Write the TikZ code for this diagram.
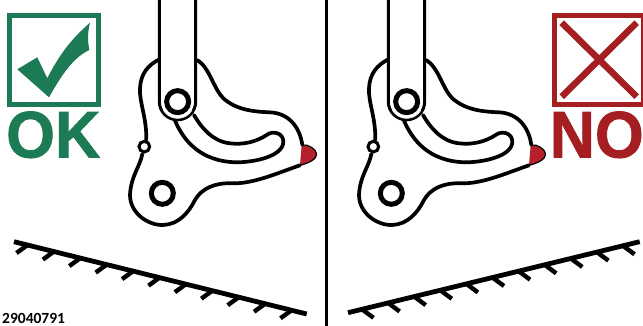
\documentclass[tikz,border=0pt]{standalone}
\usepackage{fontspec}
\setmainfont[BoldFeatures={FakeBold=1.2}]{Liberation Sans}
\newfontfamily\codefont{Carlito}
\definecolor{okgreen}{HTML}{1C7A54}
\definecolor{nored}{HTML}{A51E22}
\definecolor{tipred}{HTML}{B5202A}
\tikzset{
  hookline/.style={draw=black,line width=3.7pt,line join=round,line cap=round},
  rodline/.style={draw=black,line width=3pt,fill=white},
  groundline/.style={draw=black,line width=4.8pt},
  tickline/.style={draw=black,line width=4.4pt},
  bigword/.style={font=\fontsize{66}{66}\selectfont\bfseries,inner sep=0pt,anchor=base west,xscale=.95,transform shape},
  codetext/.style={font=\codefont\fontsize{15.5}{15.5}\selectfont\bfseries,inner sep=0pt,anchor=base west},
  zoomed/.style={x=0.3333pt,y=-0.3333pt}
}
\newcommand{\hookshape}{%
  \fill[tipred] (545,437) .. controls (565,432) and (590,448) .. (590,463) .. controls (590,478) and (565,490) .. (540,496) -- cycle;
  \draw[black,line width=1.2pt,line join=round] (547,435) .. controls (565,432) and (590,448) .. (590,463) .. controls (590,478) and (565,490) .. (540,496);
  \draw[hookline] (118,178) .. controls (85,195) and (62,220) .. (60,265)
    .. controls (58,310) and (80,350) .. (79,420)
    (67,462) .. controls (60,500) and (32,530) .. (30,585)
    .. controls (30,640) and (85,677) .. (130,675)
    .. controls (175,673) and (205,640) .. (225,600)
    .. controls (245,565) and (285,548) .. (335,550)
    .. controls (400,552) and (470,520) .. (540,496)
    (547,435) .. controls (540,385) and (510,340) .. (450,337)
    .. controls (400,335) and (350,330) .. (310,295)
    .. controls (280,265) and (270,205) .. (232,180);
  \draw[hookline] (165,362) .. controls (190,420) and (240,485) .. (350,487)
    .. controls (400,487) and (490,470) .. (490,425)
    .. controls (490,400) and (460,390) .. (440,405)
    .. controls (410,425) and (370,435) .. (330,430)
    .. controls (280,425) and (245,385) .. (222,345);
  \draw[black,line width=3pt] (73,440) circle[radius=16];
  \draw[black,line width=5pt] (127,580) circle[radius=33];
  \draw[rodline] (118,-5) -- (118,305) arc[start angle=180,end angle=0,radius=54.5] -- (227,-5);
  \draw[white,line width=.7pt] (129.7,330) arc[start angle=150,end angle=30,radius=50];
  \draw[black,line width=5pt] (173,305) circle[radius=33];
}
\begin{document}
\begin{tikzpicture}[x=1pt,y=-1pt]
\useasboundingbox (0,0) rectangle (643,326);
\clip (0,0) rectangle (643,326);
\fill[white] (0,0) rectangle (643,326);
% OK badge
\draw[okgreen,line width=5pt] (9.8,15.2) rectangle (98.6,104.3);
\fill[okgreen] (17.3,69.3) -- (37.3,57.3) -- (47.3,78.3) .. controls (58,57) and (70,40) .. (90,22.7)
  .. controls (87,35) and (88,42) .. (89.3,50) .. controls (72,58) and (60,78) .. (49,97.3) -- cycle;
\node[bigword,text=okgreen] (okword) at (6,157.5) {OK};
% NO badge
\draw[nored,line width=5pt] (554.8,15.2) rectangle (643.6,104.3);
\draw[nored,line width=6.5pt] (561.7,22.7) -- (636.7,96.7) (636.7,22.7) -- (561.7,96.7);
% divider
\draw[black,line width=3pt] (326.5,0) -- (326.5,326);
% left hook and right hook
\begin{scope}[shift={(120,0)},zoomed]\hookshape\end{scope}
\begin{scope}[shift={(349,0)},zoomed]\hookshape\end{scope}
\node[bigword,text=nored] (noword) at (549.5,157.5) {NO};
% left ground
\coordinate (la) at (14,241.7);
\coordinate (lb) at (306.7,314);
\draw[groundline] (la) -- (lb);
\foreach \k in {0,...,10}{
  \pgfmathsetmacro{\xs}{27.5+\k*26.4}
  \pgfmathsetmacro{\ys}{241.7+(\xs-14)*0.247}
  \draw[tickline] (\xs,\ys) -- ++(-11,8);
}
% right ground
\coordinate (ra) at (348,312.7);
\coordinate (rb) at (639.7,241.7);
\draw[groundline] (ra) -- (rb);
\foreach \k in {0,...,10}{
  \pgfmathsetmacro{\xs}{362+\k*26.1}
  \pgfmathsetmacro{\ys}{312.7-(\xs-348)*0.2434}
  \draw[tickline] (\xs,\ys) -- ++(11.5,8.5);
}
\node[codetext] (code) at (2,323) {29040791};
\end{tikzpicture}
\end{document}
